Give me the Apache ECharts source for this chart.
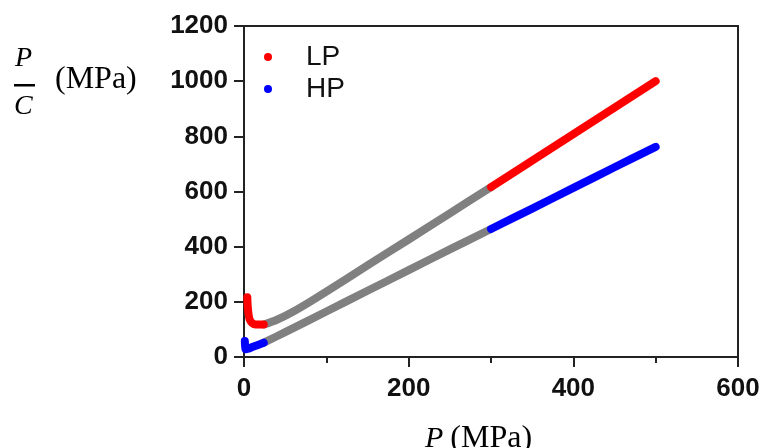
<!DOCTYPE html>
<html>
<head>
<meta charset="utf-8">
<title>P/C versus P</title>
<script src="https://cdn.jsdelivr.net/npm/echarts@6/dist/echarts.min.js"></script>
<style>
  html, body { margin: 0; padding: 0; background: #ffffff; }
  #chart { width: 765px; height: 448px; }
</style>
</head>
<body>
<div id="chart"></div>
<script>
// LP data: pressure P (MPa) and P/C (MPa)
const lpPressure = [4, 4.5, 5.5, 7, 10, 14, 24, 40, 60, 80, 100, 150, 200, 250, 300, 350, 400, 450, 500];
const lpRatio    = [217, 185, 155, 135, 123, 118, 118, 135, 165, 200, 237, 332, 426, 521, 616, 712, 808, 904, 1000];

// HP data: pressure P (MPa) and P/C (MPa)
const hpPressure = [1, 1.3, 2, 5, 10, 24, 50, 100, 150, 200, 250, 300, 350, 400, 450, 500];
const hpRatio    = [58, 42, 28, 30, 36, 52, 90, 165, 240, 315, 390, 464, 538, 613, 688, 762];

// Pressure interval drawn in grey (linear region) for each data set
const lpLinearRange = [24, 300];
const hpLinearRange = [24, 300];

// Axis ticks
const xTicks = [0, 200, 400, 600];
const yTicks = [0, 200, 400, 600, 800, 1000, 1200];

const seriesNames = ['LP', 'HP'];
const colors = { LP: '#ff0000', HP: '#0000ff', linear: '#808080' };

// Split a curve into low / linear / high pieces (shared end points keep it continuous)
function splitCurve(pressure, ratio, range) {
  const low = [], mid = [], high = [];
  pressure.forEach((p, i) => {
    const pt = [p, ratio[i]];
    if (p <= range[0]) low.push(pt);
    if (p >= range[0] && p <= range[1]) mid.push(pt);
    if (p >= range[1]) high.push(pt);
  });
  return { low, mid, high };
}

function lineSeries(name, data, color) {
  return {
    name: name,
    type: 'line',
    data: data,
    showSymbol: false,
    symbol: 'none',
    smooth: 0.3,
    color: color,
    lineStyle: { color: color, width: 8, cap: 'round', join: 'round' },
    emphasis: { disabled: true },
    animation: false,
    z: 3
  };
}

const lp = splitCurve(lpPressure, lpRatio, lpLinearRange);
const hp = splitCurve(hpPressure, hpRatio, hpLinearRange);

const series = [
  lineSeries('LP linear', lp.mid, colors.linear),
  lineSeries('HP linear', hp.mid, colors.linear),
  lineSeries('LP', lp.low, colors.LP),
  lineSeries('LP', lp.high, colors.LP),
  lineSeries('HP', hp.low, colors.HP),
  lineSeries('HP', hp.high, colors.HP)
];

const tickFont = {
  fontFamily: 'Liberation Sans, Arial, sans-serif',
  fontWeight: 'bold',
  fontSize: 26,
  color: '#111111',
  formatter: (v) => String(v)
};
const axisLine = { show: true, onZero: false, lineStyle: { color: '#222222', width: 2 } };

const chart = echarts.init(document.getElementById('chart'), null, { renderer: 'canvas' });

chart.setOption({
  animation: false,
  backgroundColor: '#ffffff',
  grid: {
    left: 244, right: 27, top: 26, bottom: 91,
    show: true, borderColor: '#222222', borderWidth: 2,
    outerBoundsMode: 'none'
  },
  legend: {
    data: seriesNames,
    orient: 'vertical',
    left: 259,
    top: 38,
    icon: 'circle',
    itemWidth: 8,
    itemHeight: 8,
    itemGap: 4,
    selectedMode: false,
    textStyle: {
      fontFamily: 'Liberation Sans, Arial, sans-serif',
      fontSize: 28,
      color: '#111111',
      padding: [0, 0, 0, 29]
    }
  },
  xAxis: {
    type: 'value',
    min: xTicks[0],
    max: xTicks[xTicks.length - 1],
    interval: xTicks[1] - xTicks[0],
    axisLine: axisLine,
    axisTick: { show: true, inside: false, length: 10, lineStyle: { color: '#222222', width: 2 } },
    minorTick: { show: true, splitNumber: 2, length: 6, lineStyle: { color: '#222222', width: 2 } },
    splitLine: { show: false },
    axisLabel: Object.assign({ margin: 19 }, tickFont)
  },
  yAxis: {
    type: 'value',
    min: yTicks[0],
    max: yTicks[yTicks.length - 1],
    interval: yTicks[1] - yTicks[0],
    axisLine: axisLine,
    axisTick: { show: true, inside: false, length: 10, lineStyle: { color: '#222222', width: 2 } },
    splitLine: { show: false },
    axisLabel: Object.assign({ margin: 16 }, tickFont)
  },
  graphic: [
    // y-axis title: P over C, then (MPa)
    {
      type: 'text', left: 15, top: 45,
      style: { text: 'P', font: 'italic 28px "Liberation Serif", serif', fill: '#000000' }
    },
    {
      type: 'rect', shape: { x: 14, y: 84, width: 21, height: 2.5 },
      style: { fill: '#000000' }
    },
    {
      type: 'text', left: 14, top: 93,
      style: { text: 'C', font: 'italic 28px "Liberation Serif", serif', fill: '#000000' }
    },
    {
      type: 'text', left: 55, top: 64,
      style: { text: '(MPa)', font: '32px "Liberation Serif", serif', fill: '#000000' }
    },
    // x-axis title: P (MPa)
    {
      type: 'text', left: 425, top: 423,
      style: {
        text: '{i|P}{s| }{n|(MPa)}',
        rich: {
          i: { font: 'italic 30px "Liberation Serif", serif', fill: '#000000' },
          s: { font: '32px "Liberation Serif", serif', width: 7 },
          n: { font: '32px "Liberation Serif", serif', fill: '#000000' }
        }
      }
    }
  ],
  series: series
});
</script>
</body>
</html>
